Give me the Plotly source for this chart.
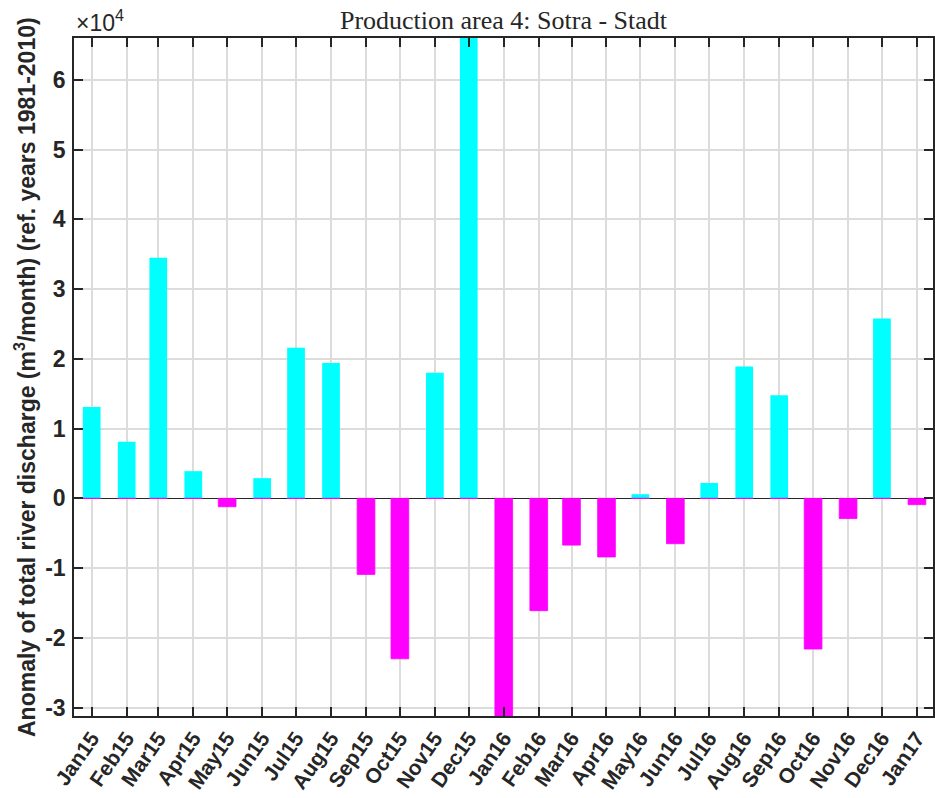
import plotly.graph_objects as go

months = ["2015-01-01", "2015-02-01", "2015-03-01", "2015-04-01", "2015-05-01", "2015-06-01",
          "2015-07-01", "2015-08-01", "2015-09-01", "2015-10-01", "2015-11-01", "2015-12-01",
          "2016-01-01", "2016-02-01", "2016-03-01", "2016-04-01", "2016-05-01", "2016-06-01",
          "2016-07-01", "2016-08-01", "2016-09-01", "2016-10-01", "2016-11-01", "2016-12-01",
          "2017-01-01"]
tick_labels = ["Jan15", "Feb15", "Mar15", "Apr15", "May15", "Jun15", "Jul15", "Aug15", "Sep15",
               "Oct15", "Nov15", "Dec15", "Jan16", "Feb16", "Mar16", "Apr16", "May16", "Jun16",
               "Jul16", "Aug16", "Sep16", "Oct16", "Nov16", "Dec16", "Jan17"]
anomaly = [13100, 8100, 34500, 3900, -1200, 2900, 21600, 19400, -10900, -23000, 18000, 70000,
           -34000, -16100, -6700, -8400, 600, -6500, 2200, 18900, 14800, -21600, -2900, 25800, -900]
y_tickvals = [-30000, -20000, -10000, 0, 10000, 20000, 30000, 40000, 50000, 60000]
y_ticktext = ["-3", "-2", "-1", "0", "1", "2", "3", "4", "5", "6"]

positive = [v if v > 0 else 0 for v in anomaly]
negative = [v if v < 0 else 0 for v in anomaly]

DAY = 86400000
bar_w = 15.7 * DAY
font_sans = "Liberation Sans"
axis_col = "#262626"

fig = go.Figure()
fig.add_trace(go.Bar(x=months, y=positive, width=bar_w, marker=dict(color="#00FFFF", line=dict(width=0)),
                     showlegend=False, hoverinfo="skip"))
fig.add_trace(go.Bar(x=months, y=negative, width=bar_w,
                     marker=dict(color="#FF00FF", line=dict(color="#FF00FF", width=0.8)),
                     showlegend=False, hoverinfo="skip"))

fig.update_layout(
    width=935, height=798,
    margin=dict(l=74, r=2, t=38, b=82),
    paper_bgcolor="white", plot_bgcolor="white",
    barmode="overlay",
    title=dict(text="Production area 4: Sotra - Stadt", x=503.5 / 935, xanchor="center",
               y=1 - 20 / 798, yanchor="middle", yref="container",
               font=dict(family="Liberation Serif", size=26, color="#262626")),
    xaxis=dict(type="date", range=["2014-12-16 08:00", "2017-01-15 05:00"],
               tickvals=months, ticktext=tick_labels, tickangle=-55,
               ticks="inside", ticklen=9, tickwidth=1.5, tickcolor=axis_col,
               showline=True, linecolor=axis_col, linewidth=1.5, mirror="ticks",
               showgrid=True, gridcolor="#dcdcdc", gridwidth=1.5, automargin=False,
               tickfont=dict(family=font_sans, size=21, color=axis_col, weight="bold")),
    yaxis=dict(range=[-31200, 66000], tickvals=y_tickvals, ticktext=y_ticktext,
               ticks="inside", ticklen=9, tickwidth=1.5, tickcolor=axis_col,
               showline=True, linecolor=axis_col, linewidth=1.5, mirror="ticks",
               showgrid=True, gridcolor="#dcdcdc", gridwidth=1.5, automargin=False,
               zeroline=True, zerolinecolor=axis_col, zerolinewidth=1.2,
               ticklabelstandoff=2,
               tickfont=dict(family=font_sans, size=23, color=axis_col, weight="bold")),
    annotations=[
        dict(text="×10<sup>4</sup>", xref="paper", yref="paper", x=0.0, y=1.0,
             xanchor="left", yanchor="bottom", showarrow=False, yshift=0,
             font=dict(family=font_sans, size=23, color=axis_col)),
        dict(text="Anomaly of total river discharge (m<sup>3</sup>/month) (ref. years 1981-2010)",
             xref="paper", yref="paper", x=(25 - 74) / 859, y=0.5, textangle=-90,
             xanchor="center", yanchor="middle", showarrow=False,
             font=dict(family=font_sans, size=23, color=axis_col, weight="bold")),
    ],
)

fig.write_html("out.html", config={"displayModeBar": False},
               post_script="document.body.style.margin='0';")
